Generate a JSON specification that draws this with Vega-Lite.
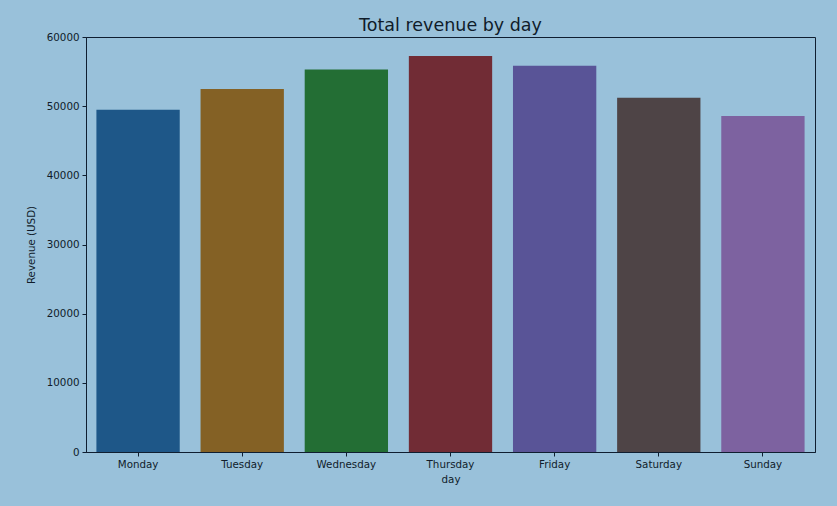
{
  "$schema": "https://vega.github.io/schema/vega-lite/v6.json",
  "autosize": "none",
  "width": 729,
  "height": 415,
  "padding": {"left": 86, "top": 37, "right": 22, "bottom": 54},
  "background": "#99c1da",
  "title": {
    "text": "Total revenue by day",
    "font": "DejaVu Sans",
    "fontSize": 17.5,
    "fontWeight": "normal",
    "color": "#101c2a",
    "offset": -2
  },
  "data": {
    "values": [
      {"day": "Monday", "revenue": 49490},
      {"day": "Tuesday", "revenue": 52480},
      {"day": "Wednesday", "revenue": 55310},
      {"day": "Thursday", "revenue": 57250},
      {"day": "Friday", "revenue": 55850},
      {"day": "Saturday", "revenue": 51220},
      {"day": "Sunday", "revenue": 48580}
    ]
  },
  "mark": {"type": "bar"},
  "encoding": {
    "x": {
      "field": "day",
      "type": "nominal",
      "sort": ["Monday", "Tuesday", "Wednesday", "Thursday", "Friday", "Saturday", "Sunday"],
      "scale": {"paddingInner": 0.2, "paddingOuter": 0.1},
      "axis": {"labelAngle": 0, "title": "day", "titlePadding": 5}
    },
    "y": {
      "field": "revenue",
      "type": "quantitative",
      "scale": {"domain": [0, 60000], "nice": false},
      "axis": {
        "values": [0, 10000, 20000, 30000, 40000, 50000, 60000],
        "format": "d",
        "grid": false,
        "title": "Revenue (USD)",
        "titlePadding": 10
      }
    },
    "color": {
      "field": "day",
      "type": "nominal",
      "scale": {
        "domain": ["Monday", "Tuesday", "Wednesday", "Thursday", "Friday", "Saturday", "Sunday"],
        "range": ["#1e5788", "#846125", "#236e34", "#712c35", "#595497", "#4e4446", "#7d62a0"]
      },
      "legend": null
    }
  },
  "config": {
    "view": {"stroke": "#0f1e30", "strokeWidth": 1},
    "axis": {
      "domainColor": "#0f1e30",
      "tickColor": "#0f1e30",
      "tickSize": 4,
      "labelPadding": 3,
      "labelFont": "DejaVu Sans",
      "labelFontSize": 10.3,
      "labelColor": "#101c2a",
      "titleFont": "DejaVu Sans",
      "titleFontSize": 10.3,
      "titleFontWeight": "normal",
      "titleColor": "#101c2a"
    }
  }
}
